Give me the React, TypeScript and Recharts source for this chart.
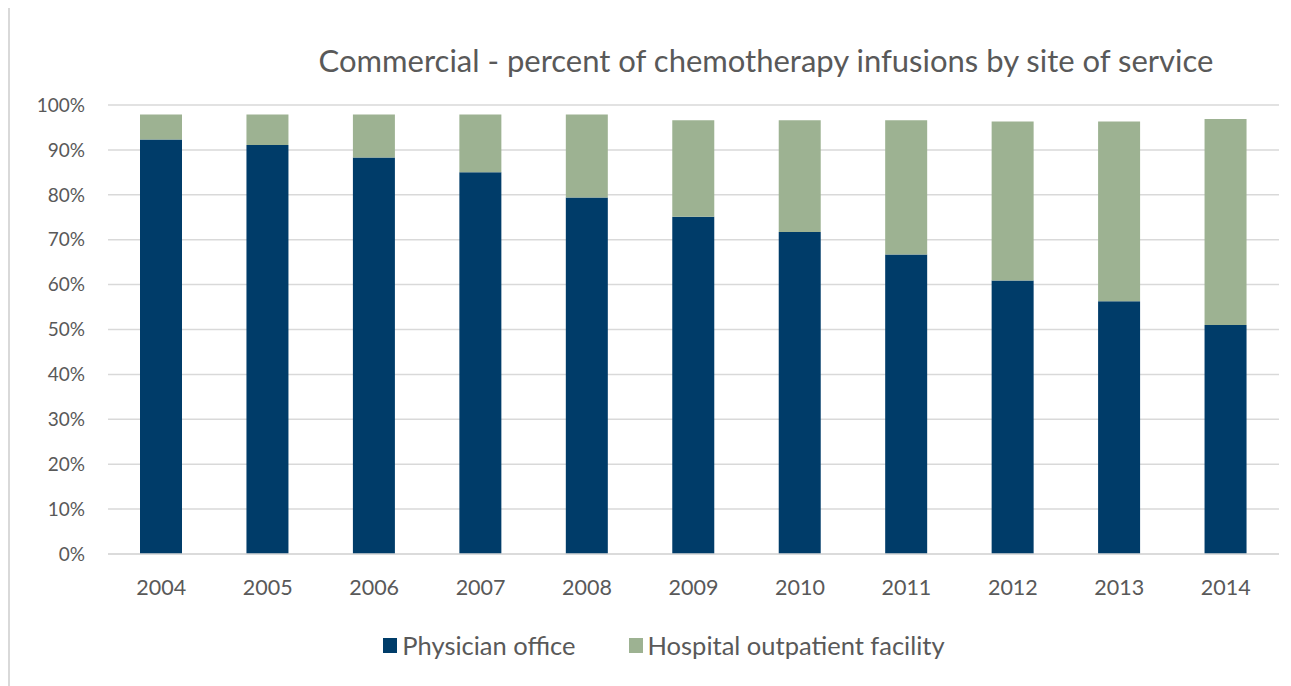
import { Bar, BarChart, CartesianGrid, Legend, XAxis, YAxis } from 'recharts';

const YEARS = ['2004', '2005', '2006', '2007', '2008', '2009', '2010', '2011', '2012', '2013', '2014'];
const PHYSICIAN_OFFICE = [92.3, 91.1, 88.3, 85.0, 79.4, 75.1, 71.7, 66.7, 60.9, 56.3, 51.0];
const HOSPITAL_OUTPATIENT = [5.6, 6.8, 9.6, 12.9, 18.5, 21.5, 24.9, 29.9, 35.4, 40.0, 45.9];
const Y_TICKS = [0, 10, 20, 30, 40, 50, 60, 70, 80, 90, 100];

const TITLE = 'Commercial - percent of chemotherapy infusions by site of service';
const FONT = 'Lato, "Open Sans", sans-serif';
const TEXT_COLOR = '#595959';
const BLUE = '#003c69';
const GREEN = '#9db292';

const data = YEARS.map((year, i) => ({
  year,
  physician: PHYSICIAN_OFFICE[i],
  hospital: HOSPITAL_OUTPATIENT[i],
}));

const LEGEND_ITEMS = [
  { label: 'Physician office', color: BLUE },
  { label: 'Hospital outpatient facility', color: GREEN },
];

function ChartLegend() {
  return (
    <div
      style={{
        display: 'flex',
        justifyContent: 'center',
        alignItems: 'center',
        gap: 53,
        fontFamily: FONT,
        fontSize: 25.5,
        color: TEXT_COLOR,
        paddingLeft: 39,
        lineHeight: '30px',
      }}
    >
      {LEGEND_ITEMS.map((item) => (
        <span key={item.label} style={{ display: 'flex', alignItems: 'center' }}>
          <span
            style={{
              display: 'inline-block',
              width: 14,
              height: 15,
              background: item.color,
              marginRight: 5,
            }}
          />
          {item.label}
        </span>
      ))}
    </div>
  );
}

export default function App() {
  return (
    <div
      style={{
        position: 'relative',
        width: 1283,
        height: 680,
        marginTop: -2,
        borderTop: '2px solid #d9d9d9',
        borderLeft: '2px solid #d9d9d9',
        background: '#fff',
        boxSizing: 'border-box',
      }}
    >
      <div
        style={{
          position: 'absolute',
          left: 0,
          top: 32,
          width: 1512,
          textAlign: 'center',
          fontFamily: FONT,
          fontSize: 31,
          color: TEXT_COLOR,
          lineHeight: '40px',
        }}
      >
        {TITLE}
      </div>
      <BarChart
        width={1281}
        height={676}
        data={data}
        margin={{ top: 97, right: 12, left: 0, bottom: 24 }}
        barSize={42}
      >
        <CartesianGrid vertical={false} stroke="#d9d9d9" strokeWidth={1.5} />
        <XAxis
          dataKey="year"
          height={76}
          tickLine={false}
          tickSize={0}
          tickMargin={26}
          axisLine={{ stroke: '#d9d9d9', strokeWidth: 1.5 }}
          tick={{ fill: TEXT_COLOR, fontSize: 21.5, fontFamily: FONT }}
        />
        <YAxis
          width={98}
          domain={[0, 100]}
          ticks={Y_TICKS}
          interval={0}
          axisLine={false}
          tickLine={false}
          tickSize={0}
          tickMargin={23}
          tickFormatter={(v: number) => `${v}%`}
          tick={{ fill: TEXT_COLOR, fontSize: 19, fontFamily: FONT }}
        />
        <Legend verticalAlign="bottom" height={30} content={() => <ChartLegend />} />
        <Bar dataKey="physician" name="Physician office" stackId="a" fill={BLUE} isAnimationActive={false} />
        <Bar
          dataKey="hospital"
          name="Hospital outpatient facility"
          stackId="a"
          fill={GREEN}
          isAnimationActive={false}
        />
      </BarChart>
    </div>
  );
}
